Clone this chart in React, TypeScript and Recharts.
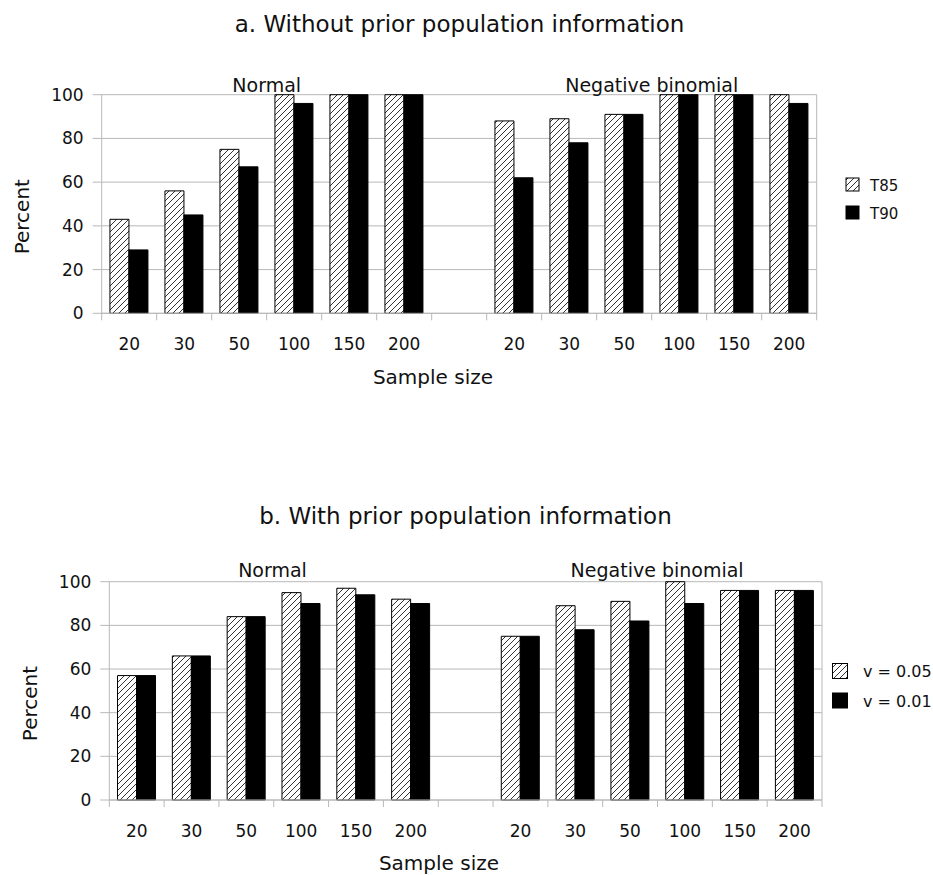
import { BarChart, Bar, XAxis, YAxis, CartesianGrid } from 'recharts';

const sampleSizes = ['20', '30', '50', '100', '150', '200'];
const groupNames = ['Normal', 'Negative binomial'];

// a. Without prior population information
const normalT85 = [43, 56, 75, 100, 100, 100];
const normalT90 = [29, 45, 67, 96, 100, 100];
const negBinT85 = [88, 89, 91, 100, 100, 100];
const negBinT90 = [62, 78, 91, 100, 100, 96];

// b. With prior population information
const normalV05 = [57, 66, 84, 95, 97, 92];
const normalV01 = [57, 66, 84, 90, 94, 90];
const negBinV05 = [75, 89, 91, 100, 96, 96];
const negBinV01 = [75, 78, 82, 90, 96, 96];

const yTicks = [0, 20, 40, 60, 80, 100];
const gridValues = [0, 10, 20, 30, 40, 50, 60, 70, 80, 90, 100];

const FONT = '"DejaVu Sans", sans-serif';
const GRID = '#b8b8b8';

type Row = { size: string; first: number | null; second: number | null };

function buildRows(normA: number[], normB: number[], nbA: number[], nbB: number[]): Row[] {
    const rows: Row[] = sampleSizes.map((s, i) => ({ size: s, first: normA[i], second: normB[i] }));
    // empty slot between the two distributions
    rows.push({ size: '', first: null, second: null });
    sampleSizes.forEach((s, i) => rows.push({ size: s, first: nbA[i], second: nbB[i] }));
    return rows;
}

const rowsA = buildRows(normalT85, normalT90, negBinT85, negBinT90);
const rowsB = buildRows(normalV05, normalV01, negBinV05, negBinV01);

function SizeTick(props: any) {
    const { x, y, payload, index, band, count } = props;
    return (
        <g>
            <line x1={x - band / 2} x2={x - band / 2} y1={y} y2={y + 7} stroke={GRID} />
            {index === count - 1 && <line x1={x + band / 2} x2={x + band / 2} y1={y} y2={y + 7} stroke={GRID} />}
            <text x={x} y={y + 37} textAnchor="middle" fontSize={17} fill="#111" fontFamily={FONT}>
                {payload.value}
            </text>
        </g>
    );
}

function Panel({ rows, height, plotLeft, plotRight, top, bottom }: any) {
    const band = (plotRight - plotLeft) / rows.length;
    return (
        <BarChart
            width={933}
            height={height}
            data={rows}
            margin={{ top: top, right: 933 - plotRight, bottom: bottom, left: 0 }}
            barCategoryGap="15%"
            barGap={0}
        >
            <CartesianGrid stroke={GRID} horizontalValues={gridValues} verticalPoints={[plotRight]} />
            <XAxis
                dataKey="size"
                interval={0}
                height={40}
                tickLine={false}
                tickSize={0}
                tickMargin={0}
                axisLine={{ stroke: GRID }}
                tick={(p: any) => <SizeTick {...p} band={band} count={rows.length} />}
            />
            <YAxis
                width={plotLeft}
                domain={[0, 100]}
                ticks={yTicks}
                tickSize={9}
                tickMargin={9}
                tickLine={{ stroke: GRID }}
                axisLine={{ stroke: GRID }}
                tick={{ fill: '#111', fontSize: 17, fontFamily: FONT }}
            />
            <Bar dataKey="first" fill="url(#hatch)" stroke="#000" strokeWidth={1} isAnimationActive={false} />
            <Bar dataKey="second" fill="#000" stroke="#000" strokeWidth={1} isAnimationActive={false} />
        </BarChart>
    );
}

export default function App() {
    return (
        <div style={{ position: 'relative', width: 933, height: 875, background: '#fff', fontFamily: FONT }}>
            <style>{'body{margin:0}'}</style>
            <svg width={0} height={0} style={{ position: 'absolute' }}>
                <defs>
                    <pattern id="hatch" patternUnits="userSpaceOnUse" width={6} height={6}>
                        <rect width={6} height={6} fill="#fff" />
                        <path d="M-1,1 l2,-2 M0,6 l6,-6 M5,7 l2,-2" stroke="#333" strokeWidth={1} />
                    </pattern>
                </defs>
            </svg>

            <div style={{ position: 'absolute', left: 0, top: 0 }}>
                <Panel rows={rowsA} height={440} plotLeft={101.7} plotRight={816.7} top={94.7} bottom={86.7} />
            </div>
            <div style={{ position: 'absolute', left: 0, top: 440 }}>
                <Panel rows={rowsB} height={435} plotLeft={109.3} plotRight={822} top={141.7} bottom={35} />
            </div>

            {/* titles, axis labels, group labels and legends */}
            <svg width={933} height={875} style={{ position: 'absolute', left: 0, top: 0, pointerEvents: 'none' }} fontFamily={FONT} fill="#111">
                <text x={459.5} y={31.5} textAnchor="middle" fontSize={23}>a. Without prior population information</text>
                <text x={266.7} y={91.5} textAnchor="middle" fontSize={19}>{groupNames[0]}</text>
                <text x={651.7} y={91.5} textAnchor="middle" fontSize={19}>{groupNames[1]}</text>
                <text x={29} y={216.7} textAnchor="middle" fontSize={20} transform="rotate(-90 29 216.7)">Percent</text>
                <text x={433} y={384} textAnchor="middle" fontSize={20}>Sample size</text>

                <rect x={846} y={178} width={13} height={13} fill="url(#hatch)" stroke="#000" />
                <rect x={846} y={206} width={13} height={13} fill="#000" stroke="#000" />
                <text x={870} y={191} fontSize={15}>T85</text>
                <text x={870} y={218.5} fontSize={15}>T90</text>

                <text x={465.5} y={524} textAnchor="middle" fontSize={23}>b. With prior population information</text>
                <text x={272.5} y={577} textAnchor="middle" fontSize={19}>{groupNames[0]}</text>
                <text x={657.1} y={577} textAnchor="middle" fontSize={19}>{groupNames[1]}</text>
                <text x={37} y={703.5} textAnchor="middle" fontSize={20} transform="rotate(-90 37 703.5)">Percent</text>
                <text x={439} y={869.5} textAnchor="middle" fontSize={20}>Sample size</text>

                <rect x={832.5} y={663.5} width={15} height={15} fill="url(#hatch)" stroke="#000" />
                <rect x={832.5} y={693} width={15} height={15} fill="#000" stroke="#000" />
                <text x={863} y={677} fontSize={16}>v = 0.05</text>
                <text x={863} y={706.5} fontSize={16}>v = 0.01</text>
            </svg>
        </div>
    );
}
